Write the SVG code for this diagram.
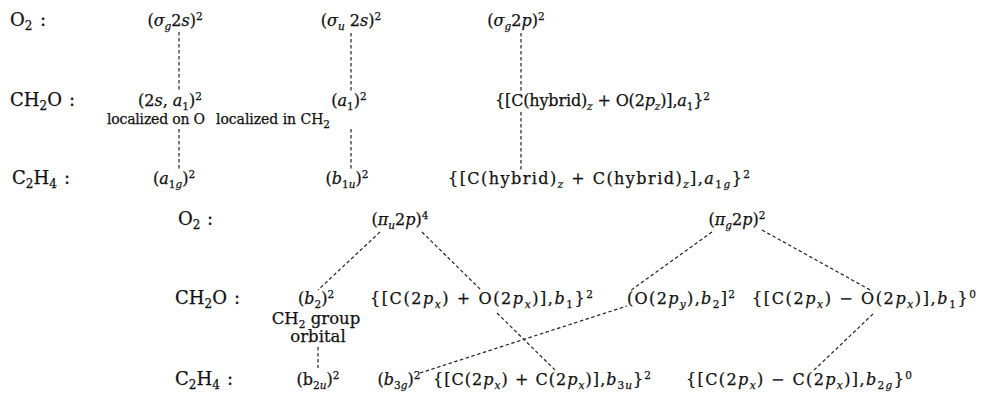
<svg xmlns="http://www.w3.org/2000/svg" width="983" height="402" viewBox="0 0 983 402">
<style>
text { font-family: "DejaVu Serif", "Liberation Serif", serif; font-size: 16px; fill: #111; stroke: #111; stroke-width: 0.25; }
.m { text-anchor: middle; }
.i { font-style: italic; }
.s { font-size: 10.5px; }
.si { font-size: 10.5px; font-style: italic; }
.sm { font-size: 14px; }
.md { font-size: 16.5px; }
.lb { font-size: 18px; }
.lb .s { font-size: 12px; }
.c { fill: none; stroke: #222; stroke-width: 1.2; stroke-dasharray: 3.5 2.5; }
</style>
<rect width="983" height="402" fill="#fff"/>
<g id="connectors">
<line class="c" x1="179" y1="32" x2="179" y2="92"/>
<line class="c" x1="179" y1="129" x2="179" y2="170"/>
<line class="c" x1="351" y1="33" x2="351" y2="92"/>
<line class="c" x1="351" y1="129" x2="351" y2="170"/>
<line class="c" x1="521" y1="33" x2="521" y2="92"/>
<line class="c" x1="521" y1="112" x2="521" y2="170"/>
<line class="c" x1="380" y1="232" x2="318" y2="290"/>
<line class="c" x1="422" y1="232" x2="482" y2="291"/>
<line class="c" x1="712" y1="232" x2="630" y2="291"/>
<line class="c" x1="762" y1="230" x2="872" y2="291"/>
<line class="c" x1="420" y1="373" x2="627" y2="306"/>
<line class="c" x1="497" y1="313" x2="557" y2="372"/>
<line class="c" x1="873" y1="314" x2="812" y2="372"/>
<line class="c" x1="318" y1="347" x2="318" y2="368"/>
</g>
<g id="o2-label-1"><text class="lb" x="10" y="26">O<tspan class="s" dy="4">2</tspan></text><text class="lb" x="40" y="26">:</text></g>
<g id="o2-sg2s"><text class="m" x="175" y="26">(<tspan class="i">σ</tspan><tspan class="si" dy="4">g</tspan><tspan dy="-4">2</tspan><tspan class="i">s</tspan>)<tspan class="s" dy="-6">2</tspan></text></g>
<g id="o2-su2s"><text class="m" x="351" y="26">(<tspan class="i">σ</tspan><tspan class="si" dy="4">u</tspan><tspan dy="-4"> 2</tspan><tspan class="i">s</tspan>)<tspan class="s" dy="-6">2</tspan></text></g>
<g id="o2-sg2p"><text class="m" x="516" y="26">(<tspan class="i">σ</tspan><tspan class="si" dy="4">g</tspan><tspan dy="-4">2</tspan><tspan class="i">p</tspan>)<tspan class="s" dy="-6">2</tspan></text></g>

<g id="ch2o-label-1"><text class="lb" x="10" y="106">CH<tspan class="s" dy="4">2</tspan><tspan dy="-4">O</tspan></text><text class="lb" x="69" y="106">:</text></g>
<g id="ch2o-2sa1"><text class="m" x="170" y="106">(2<tspan class="i">s</tspan>, <tspan class="i">a</tspan><tspan class="s" dy="4">1</tspan><tspan dy="-4">)</tspan><tspan class="s" dy="-6">2</tspan></text>
<text class="sm" x="107" y="124" textLength="98">localized on O</text></g>
<g id="ch2o-a1"><text class="m" x="349" y="106">(<tspan class="i">a</tspan><tspan class="s" dy="4">1</tspan><tspan dy="-4">)</tspan><tspan class="s" dy="-6">2</tspan></text>
<text class="sm" x="216" y="124" textLength="114">localized in CH<tspan class="s" dy="4">2</tspan></text></g>
<g id="ch2o-hybrid"><text x="495" y="106" textLength="215">{[C(hybrid)<tspan class="si" dy="4">z</tspan><tspan dy="-4"> + O(2</tspan><tspan class="i">p</tspan><tspan class="si" dy="4">z</tspan><tspan dy="-4">)],</tspan><tspan class="i">a</tspan><tspan class="s" dy="4">1</tspan><tspan dy="-4">}</tspan><tspan class="s" dy="-6">2</tspan></text></g>

<g id="c2h4-label-1"><text class="lb" x="12" y="184">C<tspan class="s" dy="4">2</tspan><tspan dy="-4">H</tspan><tspan class="s" dy="4">4</tspan></text><text class="lb" x="64" y="184">:</text></g>
<g id="c2h4-a1g"><text class="m" x="174" y="184">(<tspan class="i">a</tspan><tspan class="s" dy="4">1</tspan><tspan class="si">g</tspan><tspan dy="-4">)</tspan><tspan class="s" dy="-6">2</tspan></text></g>
<g id="c2h4-b1u"><text class="m" x="347" y="184">(<tspan class="i">b</tspan><tspan class="s" dy="4">1</tspan><tspan class="si">u</tspan><tspan dy="-4">)</tspan><tspan class="s" dy="-6">2</tspan></text></g>
<g id="c2h4-hybrid"><text x="448" y="184" textLength="302">{[C(hybrid)<tspan class="si" dy="4">z</tspan><tspan dy="-4"> + C(hybrid)</tspan><tspan class="si" dy="4">z</tspan><tspan dy="-4">],</tspan><tspan class="i">a</tspan><tspan class="s" dy="4">1</tspan><tspan class="si">g</tspan><tspan dy="-4">}</tspan><tspan class="s" dy="-6">2</tspan></text></g>

<g id="o2-label-2"><text class="lb" x="178" y="225">O<tspan class="s" dy="4">2</tspan></text><text class="lb" x="207" y="225">:</text></g>
<g id="o2-pu2p"><text class="m" x="400" y="225">(<tspan class="i">π</tspan><tspan class="si" dy="4">u</tspan><tspan dy="-4">2</tspan><tspan class="i">p</tspan>)<tspan class="s" dy="-6">4</tspan></text></g>
<g id="o2-pg2p"><text class="m" x="737" y="225">(<tspan class="i">π</tspan><tspan class="si" dy="4">g</tspan><tspan dy="-4">2</tspan><tspan class="i">p</tspan>)<tspan class="s" dy="-6">2</tspan></text></g>

<g id="ch2o-label-2"><text class="lb" x="175" y="304">CH<tspan class="s" dy="4">2</tspan><tspan dy="-4">O</tspan></text><text class="lb" x="234" y="304">:</text></g>
<g id="ch2o-b2"><text class="m" x="316" y="304">(<tspan class="i">b</tspan><tspan class="s" dy="4">2</tspan><tspan dy="-4">)</tspan><tspan class="s" dy="-6">2</tspan></text>
<text class="md m" x="316" y="324">CH<tspan class="s" dy="4">2</tspan><tspan dy="-4"> group</tspan></text>
<text class="md m" x="318" y="342">orbital</text></g>
<g id="ch2o-b1-bond"><text x="370" y="304" textLength="223">{[C(2<tspan class="i">p</tspan><tspan class="si" dy="4">x</tspan><tspan dy="-4">) + O(2</tspan><tspan class="i">p</tspan><tspan class="si" dy="4">x</tspan><tspan dy="-4">)],</tspan><tspan class="i">b</tspan><tspan class="s" dy="4">1</tspan><tspan dy="-4">}</tspan><tspan class="s" dy="-6">2</tspan></text></g>
<g id="ch2o-b2-lone"><text x="627" y="304" textLength="108">(O(2<tspan class="i">p</tspan><tspan class="si" dy="4">y</tspan><tspan dy="-4">),</tspan><tspan class="i">b</tspan><tspan class="s" dy="4">2</tspan><tspan dy="-4">]</tspan><tspan class="s" dy="-6">2</tspan></text></g>
<g id="ch2o-b1-anti"><text x="752" y="304" textLength="224">{[C(2<tspan class="i">p</tspan><tspan class="si" dy="4">x</tspan><tspan dy="-4">) − O(2</tspan><tspan class="i">p</tspan><tspan class="si" dy="4">x</tspan><tspan dy="-4">)],</tspan><tspan class="i">b</tspan><tspan class="s" dy="4">1</tspan><tspan dy="-4">}</tspan><tspan class="s" dy="-6">0</tspan></text></g>

<g id="c2h4-label-2"><text class="lb" x="175" y="385">C<tspan class="s" dy="4">2</tspan><tspan dy="-4">H</tspan><tspan class="s" dy="4">4</tspan></text><text class="lb" x="227" y="385">:</text></g>
<g id="c2h4-b2u"><text class="m" x="318" y="385">(b<tspan class="s" dy="4">2</tspan><tspan class="si">u</tspan><tspan dy="-4">)</tspan><tspan class="s" dy="-6">2</tspan></text></g>
<g id="c2h4-b3g"><text class="m" x="399" y="385">(<tspan class="i">b</tspan><tspan class="s" dy="4">3</tspan><tspan class="si">g</tspan><tspan dy="-4">)</tspan><tspan class="s" dy="-6">2</tspan></text></g>
<g id="c2h4-b3u"><text x="433" y="385" textLength="218">{[C(2<tspan class="i">p</tspan><tspan class="si" dy="4">x</tspan><tspan dy="-4">) + C(2</tspan><tspan class="i">p</tspan><tspan class="si" dy="4">x</tspan><tspan dy="-4">)],</tspan><tspan class="i">b</tspan><tspan class="s" dy="4">3</tspan><tspan class="si">u</tspan><tspan dy="-4">}</tspan><tspan class="s" dy="-6">2</tspan></text></g>
<g id="c2h4-b2g"><text x="686" y="385" textLength="226">{[C(2<tspan class="i">p</tspan><tspan class="si" dy="4">x</tspan><tspan dy="-4">) − C(2</tspan><tspan class="i">p</tspan><tspan class="si" dy="4">x</tspan><tspan dy="-4">)],</tspan><tspan class="i">b</tspan><tspan class="s" dy="4">2</tspan><tspan class="si">g</tspan><tspan dy="-4">}</tspan><tspan class="s" dy="-6">0</tspan></text></g>
</svg>
